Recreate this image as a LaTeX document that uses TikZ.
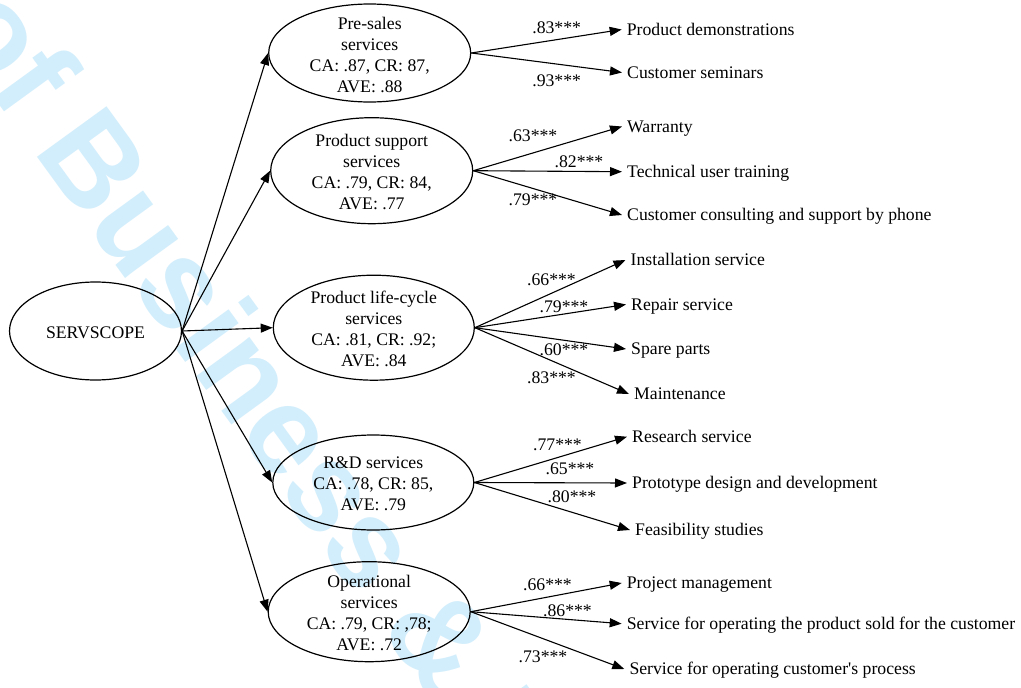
\documentclass[tikz,border=0pt]{standalone}
\usepackage{fontspec}
\setmainfont{Liberation Serif}[Ligatures=TeXOff]
\newfontfamily\wmfont{Liberation Sans}
\usetikzlibrary{shapes.geometric,arrows.meta}
\definecolor{wm}{RGB}{210,238,252}
\begin{document}
\begin{tikzpicture}[x=1pt,y=-1pt,
  every node/.style={font=\fontsize{17.7pt}{21pt}\selectfont},
  lat/.style n args={2}{draw,ellipse,line width=1.2pt,minimum width=#1,minimum height=#2,inner sep=0pt},
  lbl/.style={align=center,inner sep=0pt,yshift=-1.5pt},
  item/.style={anchor=west,inner ysep=0pt,inner xsep=5pt,text height=12.4pt,text depth=1.2pt},
  coef/.style={inner sep=0pt,text height=12.4pt,text depth=2.6pt},
  arr/.style={-{Triangle[length=12pt,width=9pt]},line width=1.1pt}]
\useasboundingbox (0,0) rectangle (1021,688);
\fill[white] (0,0) rectangle (1021,688);
% watermark
\begin{scope}
\clip (0,0) rectangle (1021,688);
\node[rotate=-54,anchor=base west,text=wm,inner sep=0pt,
  font=\wmfont\bfseries\fontsize{125pt}{125pt}\selectfont] (wmk) at (-57.7,26.4) {of Business \& Industrial};
\end{scope}
% latent variables
\node[lat={172pt}{98pt},label={[lbl]center:SERVSCOPE}] (s) at (95.5,331) {};
\node[lat={202pt}{98pt},label={[lbl]center:{Pre-sales\\services\\CA: .87, CR: 87,\\AVE: .88}}] (ps) at (369.7,53) {};
\node[lat={202pt}{106pt},label={[lbl]center:{Product support\\services\\CA: .79, CR: 84,\\AVE: .77}}] (psup) at (371.7,170.7) {};
\node[lat={201pt}{105pt},label={[lbl]center:{Product life-cycle\\services\\CA: .81, CR: .92;\\AVE: .84}}] (plc) at (373.8,327.7) {};
\node[lat={201pt}{95pt},label={[lbl]center:{R\&D services\\CA: .78, CR: 85,\\AVE: .79}}] (rd) at (373.3,482.5) {};
\node[lat={202pt}{100pt},label={[lbl]center:{Operational\\services\\CA: .79, CR: ,78;\\AVE: .72}}] (op) at (369.2,611.7) {};
% items
\node[item] (i1) at (621.7,29.5) {Product demonstrations};
\node[item] (i2) at (622,72.5) {Customer seminars};
\node[item] (i3) at (622,126.5) {Warranty};
\node[item] (i4) at (622,171.7) {Technical user training};
\node[item] (i5) at (622,215) {Customer consulting and support by phone};
\node[item] (i6) at (625.5,260) {Installation service};
\node[item] (i7) at (626,304.5) {Repair service};
\node[item] (i8) at (626,349) {Spare parts};
\node[item] (i9) at (629,394) {Maintenance};
\node[item] (i10) at (627,436.7) {Research service};
\node[item] (i11) at (627,483) {Prototype design and development};
\node[item] (i12) at (630,530) {Feasibility studies};
\node[item] (i13) at (621.7,583) {Project management};
\node[item] (i14) at (621.7,623.7) {Service for operating the product sold for the customer};
\node[item] (i15) at (624.3,669) {Service for operating customer's process};
% structural arrows
\draw[arr] (s.east) -- (ps.west);
\draw[arr] (s.east) -- (psup.west);
\draw[arr] (s.east) -- (plc.west);
\draw[arr] (s.east) -- (rd.west);
\draw[arr] (s.east) -- (op.west);
% measurement arrows
\draw[arr] (ps.east) -- (i1.west);
\draw[arr] (ps.east) -- (i2.west);
\draw[arr] (psup.east) -- (i3.west);
\draw[arr] (psup.east) -- (i4.west);
\draw[arr] (psup.east) -- (i5.west);
\draw[arr] (plc.east) -- (i6.west);
\draw[arr] (plc.east) -- (i7.west);
\draw[arr] (plc.east) -- (i8.west);
\draw[arr] (plc.east) -- (i9.west);
\draw[arr] (rd.east) -- (i10.west);
\draw[arr] (rd.east) -- (i11.west);
\draw[arr] (rd.east) -- (i12.west);
\draw[arr] (op.east) -- (i13.west);
\draw[arr] (op.east) -- (i14.west);
\draw[arr] (op.east) -- (i15.west);
% coefficients
\node[coef] (l1) at (556.7,29) {.83***};
\node[coef] (l2) at (556.7,81.5) {.93***};
\node[coef] (l3) at (533,136.7) {.63***};
\node[coef] (l4) at (579,162.5) {.82***};
\node[coef] (l5) at (533,201) {.79***};
\node[coef] (l6) at (551.5,281) {.66***};
\node[coef] (l7) at (564,307.5) {.79***};
\node[coef] (l8) at (564,351) {.60***};
\node[coef] (l9) at (551.5,379) {.83***};
\node[coef] (l10) at (557.5,446) {.77***};
\node[coef] (l11) at (570,470) {.65***};
\node[coef] (l12) at (572,498) {.80***};
\node[coef] (l13) at (547.5,585.5) {.66***};
\node[coef] (l14) at (567.5,611.5) {.86***};
\node[coef] (l15) at (543,657.5) {.73***};
\end{tikzpicture}
\end{document}
